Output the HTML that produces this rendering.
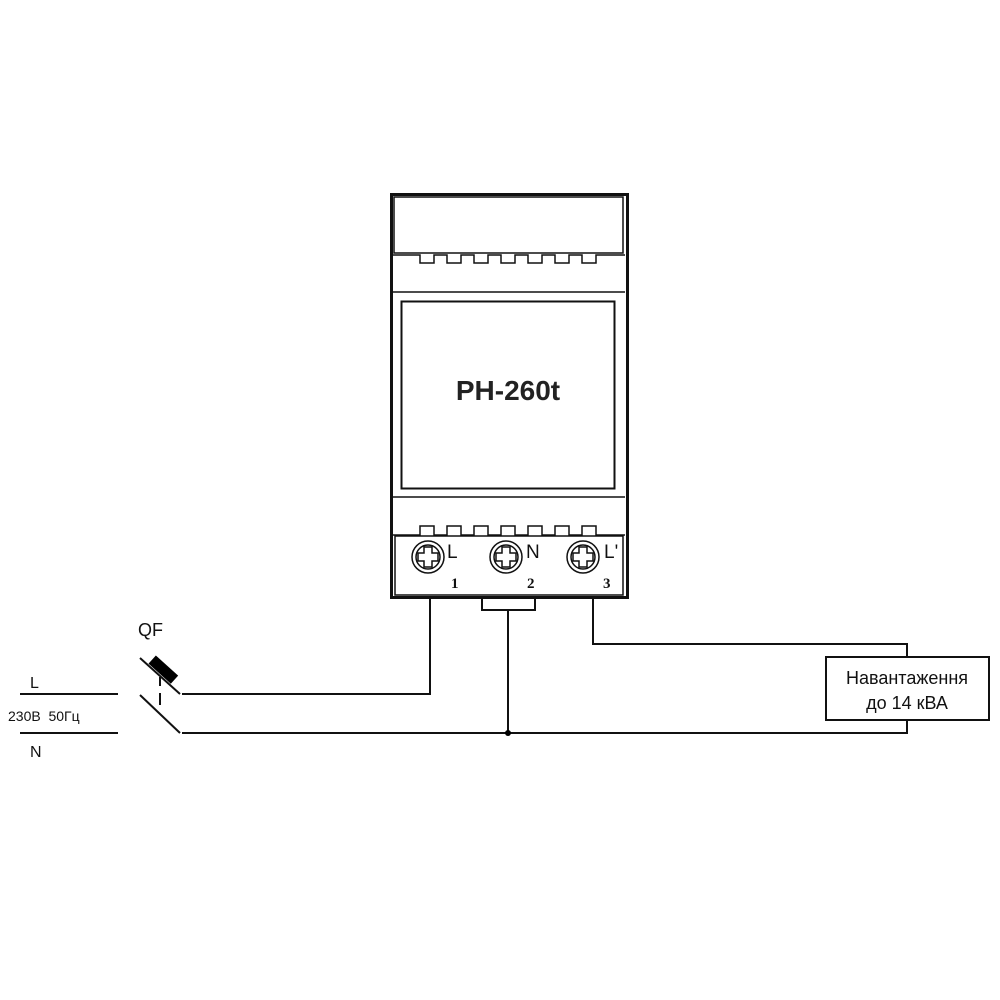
<!DOCTYPE html>
<html><head><meta charset="utf-8"><style>body{margin:0;background:#fff}svg{display:block}</style></head><body>
<svg width="1000" height="1000" viewBox="0 0 1000 1000" xmlns="http://www.w3.org/2000/svg" font-family="Liberation Sans, sans-serif">
<g fill="none" stroke="#111">
<rect x="391.5" y="194.5" width="236" height="403" stroke-width="3"/>
<rect x="394" y="197" width="229" height="56" stroke-width="1.5"/>
<path d="M393 255 H420 v8 h14 v-8 h13 v8 h14 v-8 h13 v8 h14 v-8 h13 v8 h14 v-8 h13 v8 h14 v-8 h13 v8 h14 v-8 h13 v8 h14 v-8 H625" stroke-width="1.5"/>
<line x1="393" y1="292" x2="625" y2="292" stroke-width="1.5"/>
<rect x="401.5" y="301.5" width="213" height="187" stroke-width="2"/>
<line x1="393" y1="497" x2="625" y2="497" stroke-width="1.5"/>
<path d="M393 535 H420 v-9 h14 v9 h13 v-9 h14 v9 h13 v-9 h14 v9 h13 v-9 h14 v9 h13 v-9 h14 v9 h13 v-9 h14 v9 h13 v-9 h14 v9 H625" stroke-width="1.5"/>
<rect x="395" y="536" width="228" height="59" stroke-width="1.5"/>
<g stroke-width="1.5">
<circle cx="428" cy="557" r="16"/><circle cx="428" cy="557" r="12"/>
<path d="M424 547h8v6h6v8h-6v6h-8v-6h-6v-8h6z"/>
<circle cx="506" cy="557" r="16"/><circle cx="506" cy="557" r="12"/>
<path d="M502 547h8v6h6v8h-6v6h-8v-6h-6v-8h6z"/>
<circle cx="583" cy="557" r="16"/><circle cx="583" cy="557" r="12"/>
<path d="M579 547h8v6h6v8h-6v6h-8v-6h-6v-8h6z"/>
</g>
<g stroke-width="2">
<path d="M430 597 V694 H182"/>
<path d="M482 597 V610 H535 V597"/>
<path d="M508 610 V733"/>
<path d="M182 733 H907 V720"/>
<path d="M593 597 V644 H907 V657"/>
<rect x="826" y="657" width="163" height="63"/>
<path d="M140 658 L180 694"/>
<path d="M140 695 L180 733"/>
<path d="M160 677 V686 M160 693 V705"/>
<path d="M20 694 H118 M20 733 H118"/>
</g>
</g>
<rect x="148" y="664" width="30" height="11" fill="#000" transform="rotate(42 163 670)"/>
<circle cx="508" cy="733" r="3" fill="#000"/>
<text x="508" y="400" font-size="28" font-weight="bold" text-anchor="middle" fill="#222">PH-260t</text>
<g font-size="19" fill="#111">
<text x="447" y="558">L</text><text x="526" y="558">N</text><text x="604" y="558">L'</text>
</g>
<g font-size="15" font-weight="bold" font-family="Liberation Serif, serif" fill="#111">
<text x="451" y="588">1</text><text x="527" y="588">2</text><text x="603" y="588">3</text>
</g>
<text x="907" y="684" font-size="18" text-anchor="middle" fill="#111">Навантаження</text>
<text x="907" y="709" font-size="18" text-anchor="middle" fill="#111">до 14 кВА</text>
<text x="138" y="636" font-size="18" fill="#111">QF</text>
<text x="30" y="688" font-size="16" fill="#111">L</text>
<text x="8" y="721" font-size="14" fill="#111" xml:space="preserve">230В  50Гц</text>
<text x="30" y="757" font-size="16" fill="#111">N</text>
</svg>
</body></html>
